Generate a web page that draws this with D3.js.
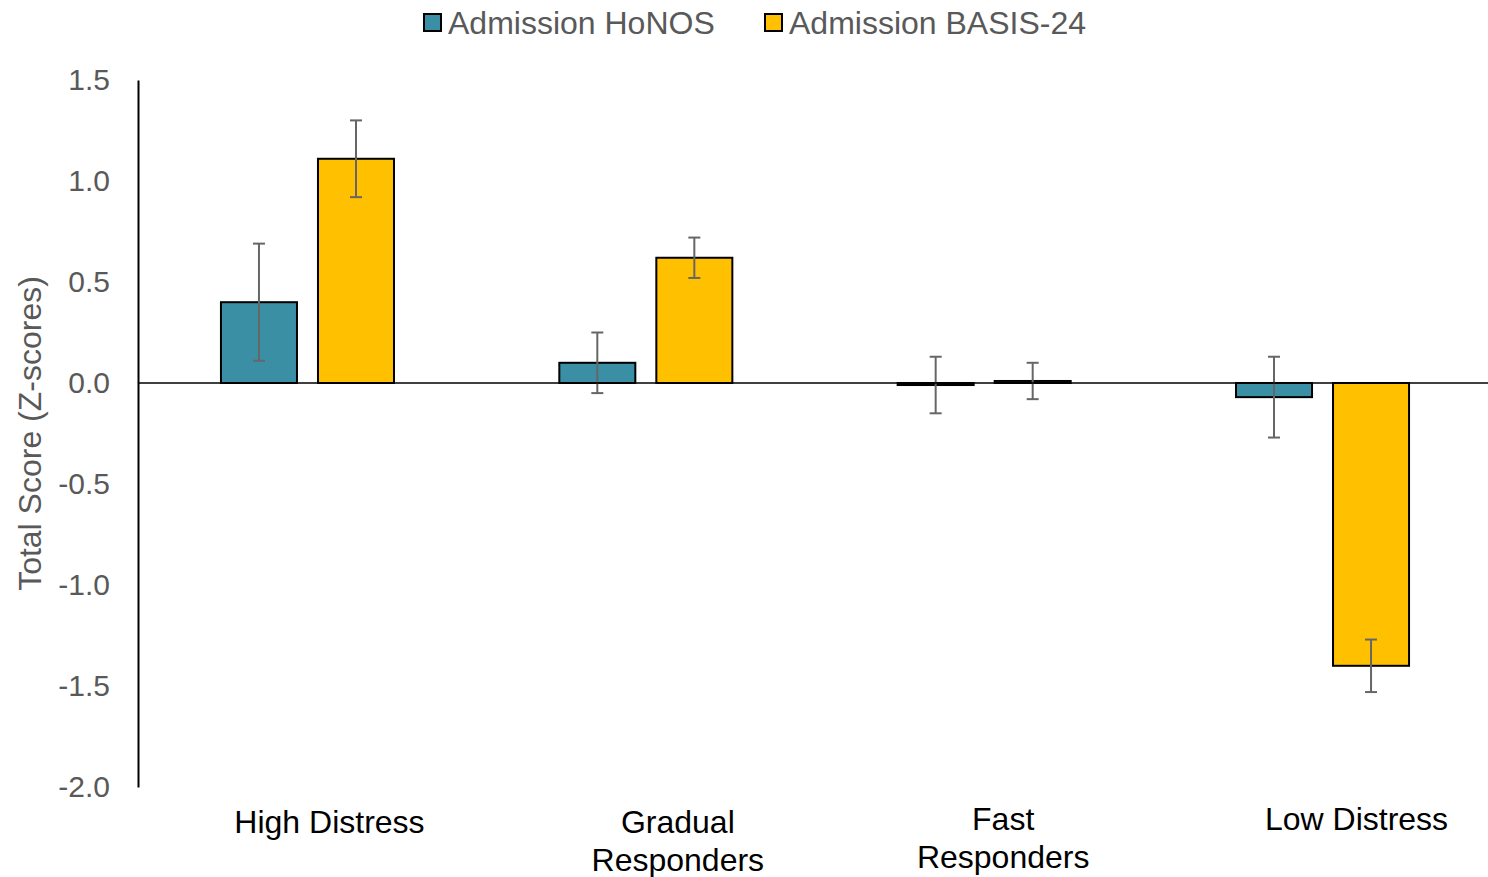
<!DOCTYPE html>
<html>
<head>
<meta charset="utf-8">
<script src="https://cdn.jsdelivr.net/npm/d3@7"></script>
<style>
  html, body { margin: 0; padding: 0; background: #ffffff; }
  svg { display: block; }
  text { font-family: "Liberation Sans", Arial, sans-serif; }
</style>
</head>
<body>
<svg id="chart" width="1488" height="877"></svg>
<script>
// Trajectory groups (category axis)
const categories = ["High Distress", "Gradual Responders", "Fast Responders", "Low Distress"];
// Multi-line category labels
const categoryLines = [["High Distress"], ["Gradual", "Responders"], ["Fast", "Responders"], ["Low Distress"]];

// Series names
const seriesNames = ["Admission HoNOS", "Admission BASIS-24"];

// Mean admission z-scores per group
const honosMeans  = [0.40, 0.10, -0.01, -0.07];
const basisMeans  = [1.11, 0.62, 0.01, -1.40];

// Error bar half-widths
const honosErr = [0.29, 0.15, 0.14, 0.20];
const basisErr = [0.19, 0.10, 0.09, 0.13];

// Y-axis ticks
const yTicks = [1.5, 1.0, 0.5, 0.0, -0.5, -1.0, -1.5, -2.0];

const colors = ["#3A8FA5", "#FFC000"];

const svg = d3.select("#chart");

const plotLeft = 138, plotRight = 1488, plotTop = 80, plotBottom = 787;
const bandEnd = 1491.7; // category bands run slightly past the right edge

const y = d3.scaleLinear().domain([-2.0, 1.5]).range([plotBottom, plotTop]);

const x0 = d3.scaleBand()
  .domain(categories)
  .range([plotLeft + 0.3, bandEnd])
  .paddingInner(0.4886)
  .paddingOuter(0.2443);

const x1 = d3.scaleBand()
  .domain(seriesNames)
  .range([0, x0.bandwidth()])
  .paddingInner(0.2165)
  .paddingOuter(0);

const rows = categories.map((c, i) => ({
  category: c,
  values: [
    { series: seriesNames[0], value: honosMeans[i], err: honosErr[i], color: colors[0] },
    { series: seriesNames[1], value: basisMeans[i], err: basisErr[i], color: colors[1] }
  ]
}));

// Y axis: line only, grey labels with plain hyphen minus
const yAxis = d3.axisLeft(y)
  .tickValues(yTicks)
  .tickSize(0)
  .tickPadding(28)
  .tickFormat(d => d.toFixed(1));

const gy = svg.append("g")
  .attr("transform", `translate(${plotLeft},0)`)
  .call(yAxis);
gy.select(".domain").attr("stroke", "#000").attr("stroke-width", 2);
gy.selectAll(".tick text")
  .attr("fill", "#595959")
  .style("font-size", "30px")
  .style("font-family", "'Liberation Sans', Arial, sans-serif");

// Y-axis title
svg.append("text")
  .attr("transform", `translate(30,${(plotTop + plotBottom) / 2}) rotate(-90)`)
  .attr("text-anchor", "middle")
  .attr("dominant-baseline", "central")
  .attr("fill", "#595959")
  .style("font-size", "32px")
  .text("Total Score (Z-scores)");

// Bars
const groups = svg.append("g").selectAll("g")
  .data(rows)
  .join("g")
  .attr("transform", d => `translate(${x0(d.category)},0)`);

groups.selectAll("rect")
  .data(d => d.values)
  .join("rect")
  .attr("x", d => x1(d.series))
  .attr("width", x1.bandwidth())
  .attr("y", d => y(Math.max(0, d.value)))
  .attr("height", d => Math.max(1, Math.abs(y(d.value) - y(0))))
  .attr("fill", d => d.color)
  .attr("stroke", "#000")
  .attr("stroke-width", 2);

// Zero baseline across the plot
svg.append("line")
  .attr("x1", plotLeft).attr("x2", plotRight)
  .attr("y1", y(0)).attr("y2", y(0))
  .attr("stroke", "#000")
  .attr("stroke-width", 1.5);

// Error bars
const capHalf = 6;
const eb = groups.selectAll("g.err")
  .data(d => d.values)
  .join("g")
  .attr("class", "err")
  .attr("stroke", "#666")
  .attr("stroke-width", 2);

eb.append("line")
  .attr("x1", d => x1(d.series) + x1.bandwidth() / 2)
  .attr("x2", d => x1(d.series) + x1.bandwidth() / 2)
  .attr("y1", d => y(d.value + d.err))
  .attr("y2", d => y(d.value - d.err));
eb.append("line")
  .attr("x1", d => x1(d.series) + x1.bandwidth() / 2 - capHalf)
  .attr("x2", d => x1(d.series) + x1.bandwidth() / 2 + capHalf)
  .attr("y1", d => y(d.value + d.err))
  .attr("y2", d => y(d.value + d.err));
eb.append("line")
  .attr("x1", d => x1(d.series) + x1.bandwidth() / 2 - capHalf)
  .attr("x2", d => x1(d.series) + x1.bandwidth() / 2 + capHalf)
  .attr("y1", d => y(d.value - d.err))
  .attr("y2", d => y(d.value - d.err));

// Category labels, set slightly right of each group and below the plot
const labelShift = [22, 32, 19, 34];
const labelTop = [822, 822, 819, 819];
const lineGap = 38;
categories.forEach((c, i) => {
  const cx = x0(c) + x0.bandwidth() / 2 + labelShift[i];
  const t = svg.append("text")
    .attr("text-anchor", "middle")
    .attr("fill", "#000")
    .style("font-size", "32px");
  categoryLines[i].forEach((ln, j) => {
    t.append("tspan")
      .attr("x", cx)
      .attr("y", labelTop[i] + j * lineGap)
      .attr("dominant-baseline", "central")
      .text(ln);
  });
});

// Legend
const legendItems = [
  { name: seriesNames[0], color: colors[0], x: 424 },
  { name: seriesNames[1], color: colors[1], x: 765 }
];
const lg = svg.append("g").selectAll("g")
  .data(legendItems)
  .join("g")
  .attr("transform", d => `translate(${d.x},14)`);
lg.append("rect")
  .attr("width", 17).attr("height", 17)
  .attr("fill", d => d.color)
  .attr("stroke", "#000")
  .attr("stroke-width", 2);
lg.append("text")
  .attr("x", 24)
  .attr("y", 9)
  .attr("dominant-baseline", "central")
  .attr("fill", "#595959")
  .style("font-size", "32px")
  .text(d => d.name);
</script>
</body>
</html>
